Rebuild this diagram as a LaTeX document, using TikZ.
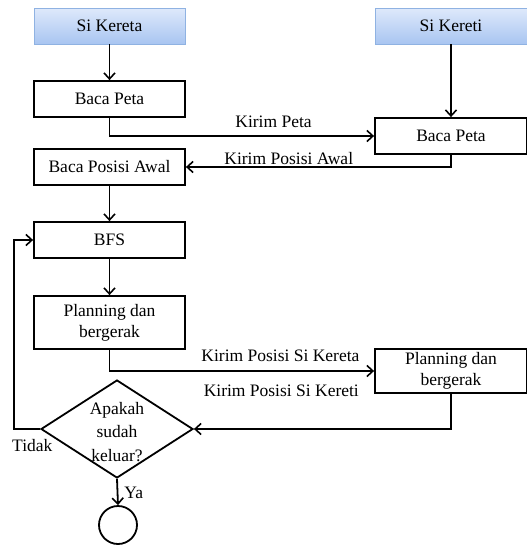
\documentclass[tikz,border=0pt]{standalone}
\usepackage{fontspec}
\setmainfont{Liberation Serif}
\usetikzlibrary{shapes.geometric,arrows.meta,positioning}

\definecolor{actortop}{HTML}{DEE9FB}
\definecolor{actorbot}{HTML}{A8C5F1}
\definecolor{actorline}{HTML}{8FB2E2}

\tikzset{
    txt/.style={font=\fontsize{17.5}{21}\selectfont},
    box/.style={txt, draw, line width=1.8pt, minimum width=151pt, minimum height=36pt, inner sep=2pt, align=center},
    actor/.style={box, draw=actorline, line width=0.8pt, top color=actortop, bottom color=actorbot},
    decision/.style={diamond, draw, line width=1.8pt, minimum width=152pt, minimum height=98pt, inner sep=0pt},
    finish/.style={circle, draw, line width=1.8pt, minimum size=38pt},
    flow/.style={line width=1.8pt, -{Straight Barb[length=6pt,width=11pt,line width=1.6pt]}},
    lbl/.style={txt, inner sep=1pt},
}

\begin{document}
\begin{tikzpicture}[x=1pt, y=-1pt]
    \useasboundingbox (0,0) rectangle (527,547);

    % left column
    \node[actor] (kereta) at (109.5,26) {Si Kereta};
    \node[box] (bacaL) at (109.5,99) {Baca Peta};
    \node[box] (posisi) at (109.5,167) {Baca Posisi Awal};
    \node[box] (bfs) at (109.5,240) {BFS};
    \node[box, minimum height=53pt] (planL) at (109.5,322.5) {Planning dan\\bergerak};
    \node[decision] (dec) at (117,429) {};
    \node[txt, align=center, font=\fontsize{17.5}{23.5}\selectfont] (dectext) at (117,432) {Apakah\\sudah\\keluar?};
    \node[finish] (end) at (118,525) {};

    % right column
    \node[actor, minimum width=152pt] (kereti) at (451,26) {Si Kereti};
    \node[box, minimum width=152pt] (bacaR) at (451,136) {Baca Peta};
    \node[box, minimum width=152pt, minimum height=44pt] (planR) at (451,371) {Planning dan\\bergerak};

    % connectors
    \draw[flow] (kereta) -- (bacaL);
    \draw[flow] (kereti) -- (bacaR);
    \draw[flow] (bacaL.south) |- node[lbl, above=6pt, pos=0.81] {Kirim Peta} (bacaR.west);
    \draw[flow] (bacaR.south) |- node[lbl, above=0pt, pos=0.806] {Kirim Posisi Awal} (posisi.east);
    \draw[flow] (posisi) -- (bfs);
    \draw[flow] (bfs) -- (planL);
    \draw[flow] (planL.south) |- node[lbl, above=7pt, pos=0.823] {Kirim Posisi Si Kereta} (planR.west);
    \draw[flow] (planR.south) |- node[lbl, pos=0.83, yshift=38pt] {Kirim Posisi Si Kereti} (dec.east);
    \draw[flow] (dec.west) -- node[lbl, below, pos=0.3, yshift=-8pt] {Tidak} ++(-26,0) |- (bfs.west);
    \draw[flow] (dec.south) -- node[lbl, right, pos=0.55, xshift=5pt] {Ya} (end.north);
\end{tikzpicture}
\end{document}
